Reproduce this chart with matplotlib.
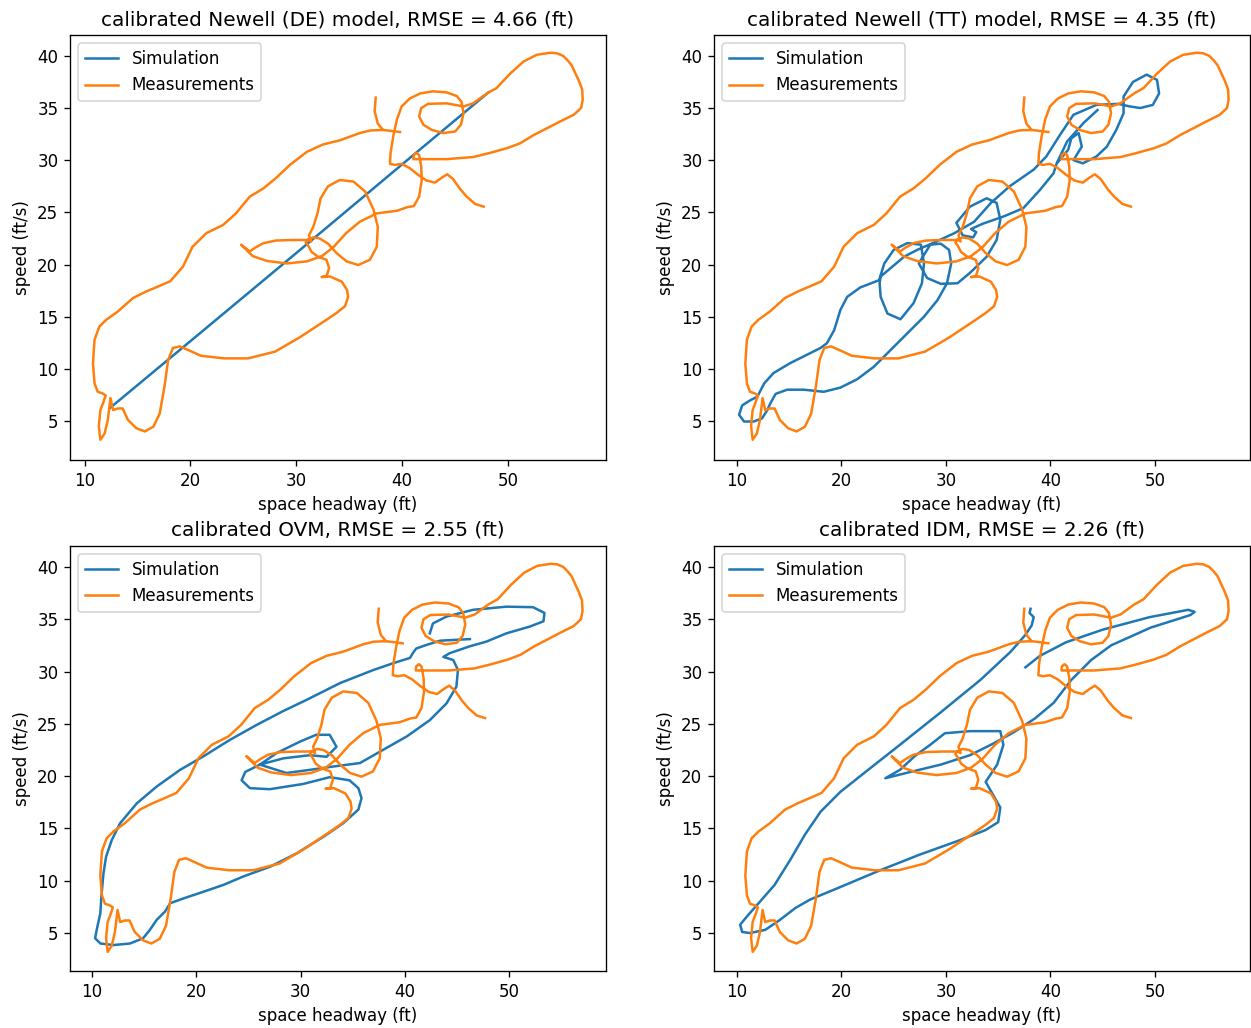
import numpy as np
import matplotlib
matplotlib.use("Agg")
import matplotlib.pyplot as plt

# ---------------- Measurements (shared by all panels) ----------------
meas_x = [37.5, 37.4, 37.7, 38.2, 37.0, 36.0, 34.1, 32.5, 31.0, 29.4, 28.1, 26.9, 25.6, 24.3, 23.1,
          21.5, 20.2, 19.3, 18.1, 17.2, 15.8, 14.6, 13.15, 12.05, 11.4, 10.95, 10.8, 10.95, 11.25,
          11.7, 12.0, 11.8, 11.5, 11.35, 11.5, 11.9, 12.2, 12.45, 12.7, 13.15, 13.6, 14.1, 14.9,
          15.7, 16.5, 17.1, 17.55, 17.9, 18.35, 19.0, 19.8, 21.0, 23.2, 25.45, 28.0, 30.3, 32.85,
          33.8, 34.6, 34.9, 34.8, 34.3, 33.2, 32.4, 32.85, 33.1, 32.85, 32.05, 31.45, 31.1, 30.9,
          31.1, 31.4, 31.2, 31.6, 32.0, 32.3, 33.0, 34.1, 35.4, 36.5, 37.3, 37.7, 37.6, 36.95,
          35.85, 34.75, 33.8, 33.0, 32.2, 31.6, 31.1, 29.7, 28.1, 26.9, 26.1, 25.6, 24.8, 25.1,
          25.9, 27.2, 29.1, 31.0, 32.4, 33.5, 34.7, 36.0, 37.6, 39.5, 40.5, 41.1, 41.6, 41.85,
          41.8, 41.6, 41.35, 41.1, 41.05, 42.0, 44.2, 46.7, 48.3, 49.9, 51.1, 52.4, 53.65, 54.9,
          56.2, 56.9, 57.05, 57.0, 56.65, 56.0, 55.6, 55.2, 54.6, 54.0, 52.7, 51.45, 50.2, 48.9,
          48.0, 46.7, 45.8, 44.2, 42.45, 41.8, 41.6, 42.0, 42.8, 43.9, 45.0, 45.55, 45.8, 45.6,
          45.15, 44.2, 42.9, 41.7, 40.7, 39.95, 39.5, 39.15, 38.9, 38.85, 39.3, 39.95, 40.7, 41.5,
          42.3, 43.1, 43.7, 44.25, 44.8, 45.5, 46.1, 46.9, 47.7]
meas_y = [36.0, 34.7, 33.5, 32.9, 32.85, 32.6, 31.9, 31.5, 30.8, 29.55, 28.3, 27.3, 26.5, 24.9, 23.8,
          23.0, 21.7, 19.8, 18.4, 18.0, 17.4, 16.8, 15.5, 14.7, 14.05, 12.8, 10.5, 8.6, 7.8,
          7.65, 7.45, 6.85, 6.05, 4.5, 3.2, 3.8, 5.1, 7.2, 6.05, 6.2, 6.2, 5.1, 4.3,
          4.0, 4.45, 5.7, 8.3, 10.85, 12.0, 12.15, 11.8, 11.25, 11.0, 11.0, 11.65, 13.0, 14.7,
          15.35, 16.0, 16.9, 17.55, 18.35, 18.85, 18.8, 18.85, 19.65, 20.45, 20.75, 21.2, 21.85, 22.1,
          22.4, 22.2, 22.8, 23.6, 24.9, 26.35, 27.5, 28.1, 27.95, 27.0, 25.25, 23.6, 21.7, 20.45,
          19.95, 20.3, 21.1, 22.0, 22.5, 22.6, 22.35, 22.35, 22.3, 22.05, 21.6, 21.25, 21.9, 21.6,
          20.8, 20.35, 20.1, 20.3, 20.8, 21.65, 23.0, 24.1, 24.9, 25.15, 25.5, 25.6, 26.5, 28.1,
          29.4, 30.5, 30.7, 30.5, 30.1, 30.1, 30.1, 30.3, 30.7, 31.15, 31.6, 32.4, 33.05, 33.7,
          34.35, 35.0, 35.8, 36.8, 37.7, 39.1, 39.6, 40.0, 40.25, 40.3, 40.1, 39.45, 38.3, 36.9,
          36.4, 35.45, 35.15, 35.45, 35.4, 35.0, 34.2, 33.4, 32.9, 32.6, 32.75, 33.4, 34.5, 35.6,
          36.15, 36.5, 36.6, 36.4, 35.9, 35.15, 33.9, 32.25, 30.65, 29.65, 29.55, 29.65, 29.25, 28.6,
          28.05, 27.85, 28.3, 28.65, 28.2, 27.2, 26.5, 25.8, 25.55]
# short stub of the measured trace near (38-40, 32.8)
meas_stub_x = [38.2, 39.0, 39.8]
meas_stub_y = [32.9, 32.8, 32.7]

# ---------------- Simulations ----------------
de_x = [12.35, 20.0, 30.0, 40.0, 48.15]
de_y = [6.2, 12.65, 21.1, 29.6, 36.5]

tt_x = [40.7, 41.7, 42.0, 42.7, 43.0, 42.2, 43.1, 44.4, 45.4, 46.3, 47.0, 47.0, 47.9, 49.2, 50.2,
        50.4, 49.8, 48.6, 47.6, 46.5, 44.4, 42.2, 40.9, 39.6, 38.4, 36.1, 34.3, 32.7, 30.8,
        28.85, 27.25, 26.0, 24.7, 23.75, 23.65, 23.75, 24.4, 25.65, 26.9, 27.7, 27.9, 27.6, 26.3,
        25.0, 24.1, 23.6, 21.8, 20.55, 19.9, 19.3, 18.6, 18.0, 16.7, 15.1, 13.5, 12.6, 11.95,
        11.3, 10.5, 10.2, 10.67, 11.6, 12.4, 12.9, 13.2, 13.7, 14.8, 16.4, 18.3, 19.9, 21.5,
        23.1, 24.7, 26.3, 27.9, 29.2, 30.1, 30.5, 30.3, 29.5, 28.5, 27.4, 28.2, 29.5, 31.1,
        32.3, 33.9, 34.85, 35.2, 34.85, 33.9, 32.3, 31.0, 31.6, 32.6, 32.9, 32.4, 33.5, 35.5,
        37.4, 39.0, 40.3, 40.6, 41.6, 43.2, 44.5]
tt_y = [29.8, 31.0, 32.1, 32.6, 31.3, 30.0, 29.7, 30.35, 31.3, 32.9, 34.5, 36.1, 37.5, 38.2, 37.7,
        36.4, 35.3, 35.0, 35.15, 35.4, 35.3, 34.35, 32.4, 30.35, 29.1, 27.5, 25.9, 24.1, 23.0,
        22.1, 21.4, 20.75, 19.65, 18.85, 18.2, 16.9, 15.3, 14.75, 16.3, 18.2, 20.1, 21.9, 22.05,
        21.4, 20.1, 18.5, 17.8, 16.9, 15.65, 13.7, 12.45, 12.0, 11.35, 10.55, 9.6, 8.6, 7.33,
        7.0, 6.5, 5.6, 4.95, 4.95, 5.25, 6.05, 6.7, 7.6, 8.0, 8.0, 7.8, 8.2, 9.0,
        10.2, 11.8, 13.4, 15.0, 16.6, 18.2, 20.1, 21.4, 22.0, 21.9, 20.1, 18.7, 18.15, 18.2,
        19.2, 20.75, 22.35, 24.3, 25.9, 26.35, 25.55, 24.0, 22.8, 22.6, 23.1, 23.4, 23.9, 24.6,
        25.4, 27.15, 28.75, 29.7, 31.8, 33.6, 34.8]

ovm_x = [46.25, 43.4, 42.1, 41.1, 40.8, 40.5, 38.9, 37.0, 33.8, 30.6, 28.3, 25.8, 23.2, 20.7, 18.45,
         16.2, 14.3, 12.7, 11.9, 11.35, 11.1, 10.9, 10.8, 10.45, 10.3, 10.8, 12.05, 13.65, 14.9,
         15.55, 16.2, 17.0, 17.5, 18.75, 20.7, 22.6, 24.5, 27.1, 29.6, 32.2, 34.1, 35.55, 35.85,
         35.55, 34.7, 32.8, 30.25, 27.05, 25.15, 24.35, 24.7, 26.1, 28.35, 30.9, 32.5, 33.45, 32.8,
         31.5, 29.95, 27.7, 26.1, 28.65, 30.9, 33.0, 35.7, 37.9, 40.2, 42.4, 44.0, 44.95, 45.1,
         44.65, 43.7, 44.3, 46.2, 47.8, 49.75, 52.0, 53.3, 53.4, 52.3, 49.75, 46.55, 44.0, 42.7,
         42.4]
ovm_y = [33.1, 32.95, 32.55, 32.2, 31.8, 31.3, 30.8, 30.15, 28.9, 27.3, 26.2, 24.9, 23.45, 21.9, 20.6,
         19.0, 17.4, 15.5, 13.9, 12.3, 10.7, 8.5, 6.9, 5.3, 4.5, 4.0, 3.85, 4.0, 4.5,
         5.3, 6.25, 7.05, 7.85, 8.3, 8.95, 9.6, 10.4, 11.35, 12.6, 14.2, 15.5, 16.8, 17.9,
         18.85, 19.6, 19.9, 19.25, 18.75, 18.85, 19.6, 20.4, 21.1, 21.7, 22.0, 21.85, 22.8, 23.95,
         23.95, 23.3, 22.2, 21.1, 20.3, 20.6, 20.9, 21.25, 22.5, 23.8, 25.35, 26.95, 28.55, 30.15,
         31.1, 31.4, 31.75, 32.4, 32.85, 33.65, 34.3, 34.8, 35.6, 36.15, 36.2, 35.9, 35.25, 34.6,
         33.65]

idm_x = [37.6, 39.0, 41.5, 45.0, 49.5, 53.2, 53.8, 53.4, 49.6, 45.8, 43.9, 42.0, 40.3, 38.5, 36.5,
         34.5, 32.3, 29.5, 26.6, 24.2, 25.6, 27.0, 28.5, 29.9, 32.3, 35.2, 35.5, 34.9, 33.8,
         34.4, 35.2, 35.0, 33.8, 31.4, 27.5, 23.7, 19.9, 17.0, 15.6, 14.1, 12.7, 11.25, 10.5,
         10.3, 11.05, 12.2, 13.6, 15.1, 16.5, 18.0, 19.9, 22.3, 25.6, 29.5, 33.3, 36.2, 37.6,
         38.2, 38.4, 38.0, 38.1]
idm_y = [30.4, 31.5, 32.8, 34.0, 35.2, 35.9, 35.7, 35.4, 34.2, 32.5, 31.1, 29.2, 27.0, 25.5, 24.2,
         23.1, 22.0, 21.1, 20.4, 19.8, 20.6, 21.9, 23.0, 24.1, 24.3, 24.3, 23.0, 21.1, 19.45,
         18.4, 17.0, 15.6, 14.85, 13.9, 12.5, 11.0, 9.4, 8.2, 7.4, 6.25, 5.3, 5.0, 5.1,
         5.8, 6.7, 8.0, 9.6, 12.0, 14.4, 16.6, 18.5, 20.4, 23.0, 26.1, 29.2, 31.9, 33.5,
         34.4, 35.2, 35.6, 36.0]

titles = ["calibrated Newell (DE) model, RMSE = 4.66 (ft)",
          "calibrated Newell (TT) model, RMSE = 4.35 (ft)",
          "calibrated OVM, RMSE = 2.55 (ft)",
          "calibrated IDM, RMSE = 2.26 (ft)"]
sims = [(de_x, de_y), (tt_x, tt_y), (ovm_x, ovm_y), (idm_x, idm_y)]
xlims = [(8.63, 59.25), (7.8, 59.1), (7.89, 59.3), (7.8, 59.1)]
ylims = [(1.26, 42.0), (1.26, 42.0), (1.37, 42.0), (1.37, 42.0)]

W, H = 1251, 1028
fig = plt.figure(figsize=(W / 120, H / 120), dpi=120)
boxes = [(70, 35, 606, 460), (714, 35, 1250, 460), (70, 546, 606, 971), (714, 546, 1250, 971)]

for i, (l, t, r, b) in enumerate(boxes):
    ax = fig.add_axes([l / W, 1 - b / H, (r - l) / W, (b - t) / H])
    sx, sy = sims[i]
    ax.plot(sx, sy, color="C0", label="Simulation")
    ax.plot(meas_x, meas_y, color="C1", label="Measurements")
    ax.plot(meas_stub_x, meas_stub_y, color="C1")
    ax.set_xlim(*xlims[i])
    ax.set_ylim(*ylims[i])
    ax.set_title(titles[i])
    ax.set_xlabel("space headway (ft)")
    ax.set_ylabel("speed (ft/s)")
    ax.set_xticks([10, 20, 30, 40, 50])
    ax.set_yticks([5, 10, 15, 20, 25, 30, 35, 40])
    ax.legend(loc="upper left")

fig.savefig("out.png", dpi=120)
